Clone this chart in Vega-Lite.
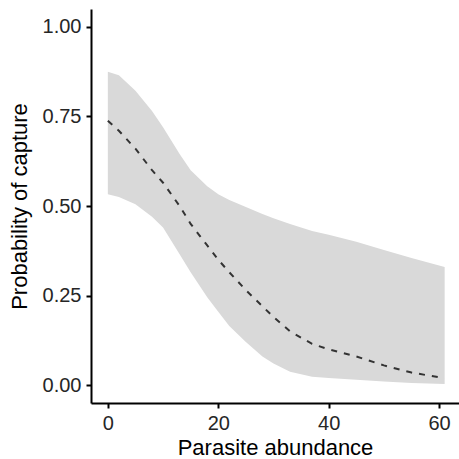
{
  "$schema": "https://vega.github.io/schema/vega-lite/v6.json",
  "width": 368,
  "height": 394,
  "autosize": {"type": "none"},
  "padding": {"left": 91, "top": 9, "right": 0, "bottom": 56},
  "background": "white",
  "config": {"view": {"stroke": null}, "font": "Liberation Sans"},
  "data": {"values": [
    {"abundance": 0, "prob": 0.738, "lower": 0.533, "upper": 0.875},
    {"abundance": 2, "prob": 0.71, "lower": 0.525, "upper": 0.865},
    {"abundance": 5, "prob": 0.66, "lower": 0.505, "upper": 0.822},
    {"abundance": 8, "prob": 0.6, "lower": 0.47, "upper": 0.765},
    {"abundance": 10, "prob": 0.565, "lower": 0.44, "upper": 0.72},
    {"abundance": 13, "prob": 0.5, "lower": 0.365, "upper": 0.645},
    {"abundance": 15, "prob": 0.45, "lower": 0.315, "upper": 0.6},
    {"abundance": 18, "prob": 0.39, "lower": 0.245, "upper": 0.555},
    {"abundance": 20, "prob": 0.35, "lower": 0.205, "upper": 0.533},
    {"abundance": 22, "prob": 0.315, "lower": 0.165, "upper": 0.517},
    {"abundance": 25, "prob": 0.265, "lower": 0.12, "upper": 0.497},
    {"abundance": 28, "prob": 0.22, "lower": 0.08, "upper": 0.478},
    {"abundance": 30, "prob": 0.19, "lower": 0.06, "upper": 0.466},
    {"abundance": 33, "prob": 0.15, "lower": 0.037, "upper": 0.45},
    {"abundance": 37, "prob": 0.115, "lower": 0.023, "upper": 0.43},
    {"abundance": 40, "prob": 0.1, "lower": 0.02, "upper": 0.42},
    {"abundance": 45, "prob": 0.08, "lower": 0.015, "upper": 0.4},
    {"abundance": 50, "prob": 0.055, "lower": 0.01, "upper": 0.377},
    {"abundance": 55, "prob": 0.035, "lower": 0.006, "upper": 0.355},
    {"abundance": 61, "prob": 0.019, "lower": 0.003, "upper": 0.33}
  ]},
  "encoding": {
    "x": {
      "field": "abundance", "type": "quantitative",
      "scale": {"domain": [-3.05, 63.6], "nice": false, "zero": false},
      "axis": {
        "title": "Parasite abundance", "values": [0, 20, 40, 60], "grid": false,
        "domainColor": "black", "domainWidth": 2, "tickColor": "black", "tickWidth": 2, "tickSize": 5,
        "labelFontSize": 20, "labelColor": "#262626", "labelPadding": 5, "labelFont": "Liberation Sans",
        "titleFontSize": 22, "titleColor": "black", "titleFontWeight": "normal", "titlePadding": 4, "titleFont": "Liberation Sans"
      }
    },
    "y": {
      "type": "quantitative",
      "scale": {"domain": [-0.05, 1.05], "nice": false, "zero": false},
      "axis": {
        "title": "Probability of capture", "values": [0, 0.25, 0.5, 0.75, 1], "format": ".2f", "grid": false,
        "domainColor": "black", "domainWidth": 2, "tickColor": "black", "tickWidth": 2, "tickSize": 5,
        "labelFontSize": 20, "labelColor": "#262626", "labelPadding": 5, "labelFont": "Liberation Sans",
        "titleFontSize": 22, "titleColor": "black", "titleFontWeight": "normal", "titlePadding": 11, "titleFont": "Liberation Sans"
      }
    }
  },
  "layer": [
    {
      "mark": {"type": "area", "color": "#d9d9d9", "opacity": 1},
      "encoding": {"y": {"field": "lower", "type": "quantitative"}, "y2": {"field": "upper"}}
    },
    {
      "mark": {"type": "line", "color": "#333333", "strokeWidth": 2, "strokeDash": [6, 7]},
      "encoding": {"y": {"field": "prob", "type": "quantitative"}}
    }
  ]
}
